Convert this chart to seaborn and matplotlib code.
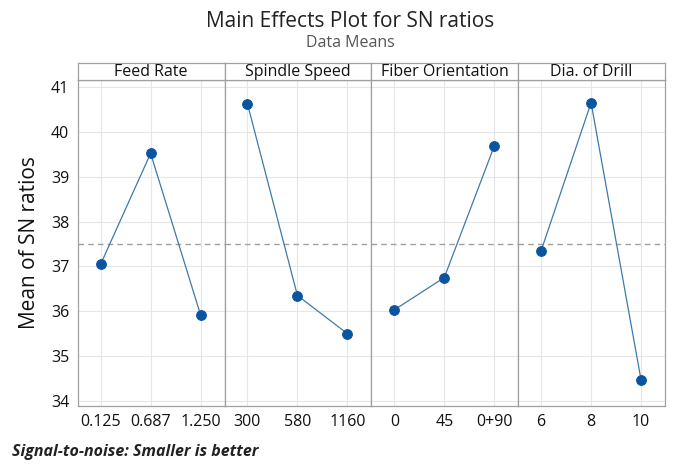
import pandas as pd
import matplotlib
matplotlib.use("Agg")
import matplotlib.pyplot as plt
import seaborn as sns

# Data
factors = ["Feed Rate", "Spindle Speed", "Fiber Orientation", "Dia. of Drill"]
feed_levels = ["0.125", "0.687", "1.250"]
feed_sn = [37.05, 39.52, 35.92]
speed_levels = ["300", "580", "1160"]
speed_sn = [40.62, 36.35, 35.50]
fiber_levels = ["0", "45", "0+90"]
fiber_sn = [36.03, 36.75, 39.68]
drill_levels = ["6", "8", "10"]
drill_sn = [37.35, 40.65, 34.47]
overall_mean = 37.50

levels = [feed_levels, speed_levels, fiber_levels, drill_levels]
values = [feed_sn, speed_sn, fiber_sn, drill_sn]

sns.set_style("white")
plt.rcParams["font.family"] = ["Open Sans", "DejaVu Sans"]

fig = plt.figure(figsize=(7, 4.67), dpi=100)
left, right = 0.111, 0.950
bottom, top = 0.131, 0.829
strip_h = 0.036
w = (right - left) / 4

for i, (name, lv, vals) in enumerate(zip(factors, levels, values)):
    ax = fig.add_axes([left + i * w, bottom, w, top - bottom])
    df = pd.DataFrame({"pos": range(len(lv)), "sn": vals})
    ax.axhline(overall_mean, color="#a0a0a0", lw=1, ls=(0, (4, 3)), zorder=1)
    sns.lineplot(data=df, x="pos", y="sn", ax=ax, color="#3f7aa6", lw=0.9,
                 marker="o", markersize=7, markerfacecolor="#0a55a0",
                 markeredgecolor="#0a55a0", zorder=3)
    ax.set_xlim(-0.46, 2.48)
    ax.set_ylim(33.89, 41.16)
    ax.set_xticks(range(len(lv)))
    ax.set_xticklabels(lv)
    ax.set_yticks(range(34, 42))
    ax.grid(True, color="#e6e6e6", lw=0.8)
    ax.set_axisbelow(True)
    ax.set_xlabel("")
    ax.set_ylabel("")
    ax.tick_params(axis="both", labelsize=11.5, length=3, color="#808080",
                   labelcolor="#111111", pad=3)
    for s in ax.spines.values():
        s.set_color("#a0a0a0")
        s.set_linewidth(0.9)
    if i == 0:
        ax.set_ylabel("Mean of SN ratios", fontsize=15, labelpad=8, color="#111111")
    else:
        ax.tick_params(axis="y", left=False, labelleft=False)

    # strip header
    sax = fig.add_axes([left + i * w, top, w, strip_h])
    sax.set_xticks([])
    sax.set_yticks([])
    for s in sax.spines.values():
        s.set_color("#a0a0a0")
        s.set_linewidth(0.9)
    sax.text(0.5, 0.45, name, ha="center", va="center", fontsize=11.5,
             color="#111111", transform=sax.transAxes)

fig.text(0.5, 0.955, "Main Effects Plot for SN ratios", ha="center", va="center",
         fontsize=15, color="#222222")
fig.text(0.5, 0.907, "Data Means", ha="center", va="center",
         fontsize=11.5, color="#555555")
fig.text(0.017, 0.033, "Signal-to-noise: Smaller is better", ha="left", va="center",
         fontsize=11.5, fontweight="bold", fontstyle="italic", color="#222222")

fig.savefig("out.png", dpi=100)
